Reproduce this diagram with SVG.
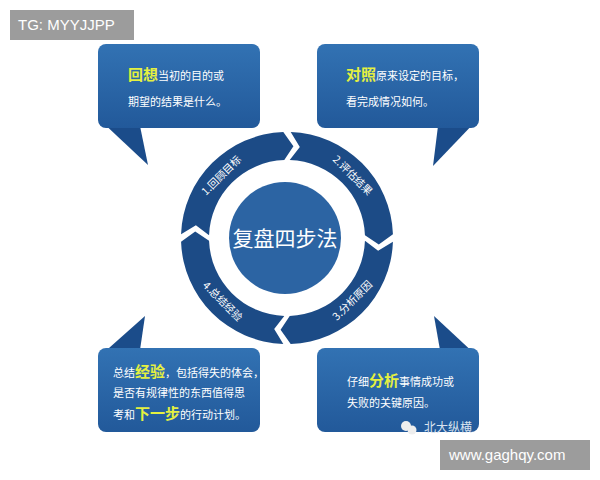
<svg xmlns="http://www.w3.org/2000/svg" width="600" height="480" viewBox="0 0 600 480">
<defs>
<linearGradient id="bg" x1="0" y1="0" x2="0" y2="1"><stop offset="0" stop-color="#3272b3"/><stop offset="1" stop-color="#22599a"/></linearGradient>
<path id="seg" d="M181.06,234.30 A106,106 0 0 1 283.30,132.06 L293.42,146.22 L284.28,160.05 A78,78 0 0 0 209.05,235.28 L195.89,225.19 Z"/>
</defs>
<style>
.box{fill:url(#bg)}
.tail{fill:#1b4c8a}
.seg{fill:#1c4b86}
.t{font-family:"Noto Sans CJK SC","Liberation Sans",sans-serif;fill:#fff;font-size:11px}
.h{fill:#e4f040;font-size:15px;font-weight:bold}
.r{font-family:"Noto Sans CJK SC","Liberation Sans",sans-serif;fill:#fff;font-size:10.5px;text-anchor:middle}
.wm{font-family:"Liberation Sans",sans-serif;fill:#fff;font-size:15px}
</style>
<rect width="600" height="480" fill="#fff"/>
<g id="ring">
<use href="#seg" class="seg"/>
<use href="#seg" class="seg" transform="rotate(90 287 238)"/>
<use href="#seg" class="seg" transform="rotate(180 287 238)"/>
<use href="#seg" class="seg" transform="rotate(270 287 238)"/>
<text class="r" transform="translate(224,178) rotate(-45)">1.回顾目标</text>
<text class="r" transform="translate(350,178) rotate(45)">2.评估结果</text>
<text class="r" transform="translate(355,303) rotate(-45)">3.分析原因</text>
<text class="r" transform="translate(220,304) rotate(45)">4.总结经验</text>
</g>
<g id="center">
<circle cx="285" cy="238" r="56" fill="#2c64a3"/>
<text x="285" y="246" text-anchor="middle" font-family="'Noto Sans CJK SC',sans-serif" font-size="21" fill="#fff">复盘四步法</text>
</g>
<g id="n1">
<path class="tail" d="M100,120 L148,165 L140,126 Z"/>
<rect class="box" x="98" y="44" width="162" height="84" rx="8"/>
<text class="t" x="128" y="80"><tspan class="h">回想</tspan>当初的目的或</text>
<text class="t" x="128" y="106">期望的结果是什么。</text>
</g>
<g id="n2">
<path class="tail" d="M477,120 L433,166 L438,126 Z"/>
<rect class="box" x="317" y="44" width="162" height="84" rx="8"/>
<text class="t" x="346" y="80"><tspan class="h">对照</tspan>原来设定的目标，</text>
<text class="t" x="346" y="106">看完成情况如何。</text>
</g>
<g id="n3">
<path class="tail" d="M100,356 L145,316 L140,350 Z"/>
<rect class="box" x="98" y="348" width="162" height="84" rx="8"/>
<text class="t" x="113" y="377">总结<tspan class="h">经验</tspan>，包括得失的体会，</text>
<text class="t" x="113" y="397">是否有规律性的东西值得思</text>
<text class="t" x="113" y="419">考和<tspan class="h">下一步</tspan>的行动计划。</text>
</g>
<g id="n4">
<path class="tail" d="M477,356 L434,316 L440,350 Z"/>
<rect class="box" x="317" y="348" width="162" height="84" rx="8"/>
<text class="t" x="347" y="386">仔细<tspan class="h">分析</tspan>事情成功或</text>
<text class="t" x="347" y="407">失败的关键原因。</text>
<circle cx="406" cy="426" r="5" fill="#eee"/><circle cx="412" cy="430" r="4.5" fill="#eee"/>
<text x="424" y="432" font-family="'Noto Sans CJK SC',sans-serif" font-size="12" fill="#d8e2ee">北大纵横</text>
</g>
<rect x="10" y="10" width="124" height="30" fill="#9c9c9c"/>
<text class="wm" x="18" y="30">TG: MYYJJPP</text>
<rect x="440" y="440" width="150" height="30" fill="#9c9c9c"/>
<text class="wm" x="449" y="460">www.gaghqy.com</text>
</svg>
